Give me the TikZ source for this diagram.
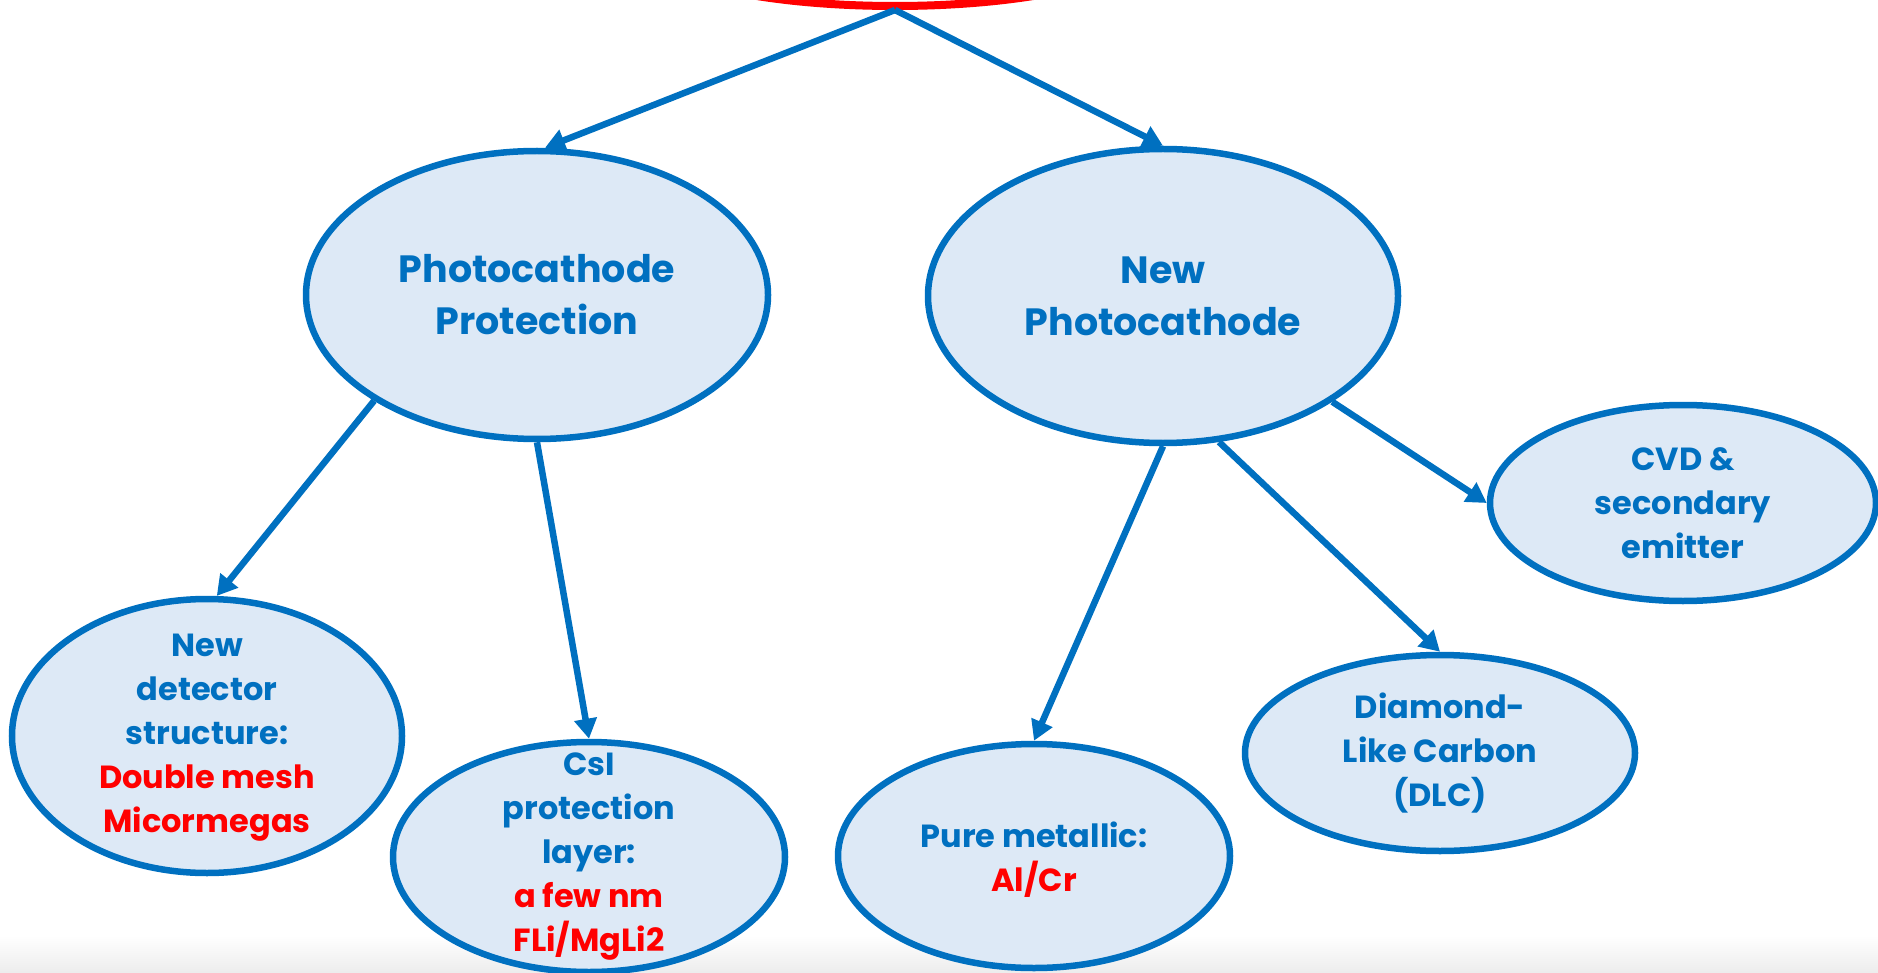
\documentclass[tikz,border=0pt]{standalone}
\usepackage{fontspec}
\setmainfont{Poppins}
\usetikzlibrary{arrows.meta,shapes.geometric}
\definecolor{nodeblue}{RGB}{0,112,192}
\definecolor{nodefill}{RGB}{221,233,246}
\definecolor{hired}{RGB}{255,0,0}
\definecolor{edgegray}{RGB}{236,236,236}
\begin{document}
\begin{tikzpicture}[x=1pt,y=-1pt,
  bubble/.style={ellipse, draw=nodeblue, fill=nodefill, line width=6.5pt, inner sep=0pt},
  label/.style={align=center, text=nodeblue, inner sep=0pt},
  bigtext/.style={font=\fontsize{38}{52}\selectfont\bfseries},
  smalltext/.style={font=\fontsize{32}{44}\selectfont\bfseries},
  link/.style={draw=nodeblue, line width=6.5pt, -{Triangle[length=20pt,width=22pt]}},
]
\useasboundingbox (0,0) rectangle (1878,973);
\clip (0,0) rectangle (1878,973);
\shade[top color=white, bottom color=edgegray] (0,935) rectangle (1878,973);

\node[ellipse, draw=hired, fill=white, line width=8pt, minimum width=500pt, minimum height=120pt, inner sep=0pt] (root) at (895,-54) {};

\node[bubble, minimum width=462pt, minimum height=288pt] (n1) at (537,295) {};
\node[bubble, minimum width=470pt, minimum height=294pt] (n2) at (1163,296) {};
\node[bubble, minimum width=390pt, minimum height=274pt] (n3) at (207,736) {};
\node[bubble, minimum width=392pt, minimum height=230pt] (n4) at (589,857) {};
\node[bubble, minimum width=392pt, minimum height=224pt] (n5) at (1034,856) {};
\node[bubble, minimum width=390pt, minimum height=196pt] (n6) at (1440,753) {};
\node[bubble, minimum width=386pt, minimum height=196pt] (n7) at (1683,503) {};

\node[label, bigtext] (t1) at (n1) {Photocathode\\Protection};
\node[label, bigtext] (t2) at (n2) {New\\Photocathode};
\node[label, smalltext] (t3) at ([yshift=-2pt]n3.center) {New\\detector\\structure:\\\textcolor{hired}{Double mesh}\\\textcolor{hired}{Micormegas}};
\node[label, smalltext] (t4) at (n4) {CsI\\protection\\layer:\\\textcolor{hired}{a few nm}\\\textcolor{hired}{FLi/MgLi2}};
\node[label, smalltext] (t5) at ([yshift=-4pt]n5.center) {Pure metallic:\\\textcolor{hired}{Al/Cr}};
\node[label, smalltext] (t6) at (n6) {Diamond-\\Like Carbon\\(DLC)};
\node[label, smalltext] (t7) at (n7) {CVD \&\\secondary\\emitter};

\draw[link] (root.south) -- ([xshift=8pt]n1.north);
\draw[link] (root.south) -- (n2.north);
\draw[link] (n1.213) -- (n3.86);
\draw[link] (n1.270) -- (n4.north);
\draw[link] (n2.south) -- (n5.north);
\draw[link] (n2.291) -- (n6.north);
\draw[link] (n2.328) -- (n7.west);
\end{tikzpicture}
\end{document}
